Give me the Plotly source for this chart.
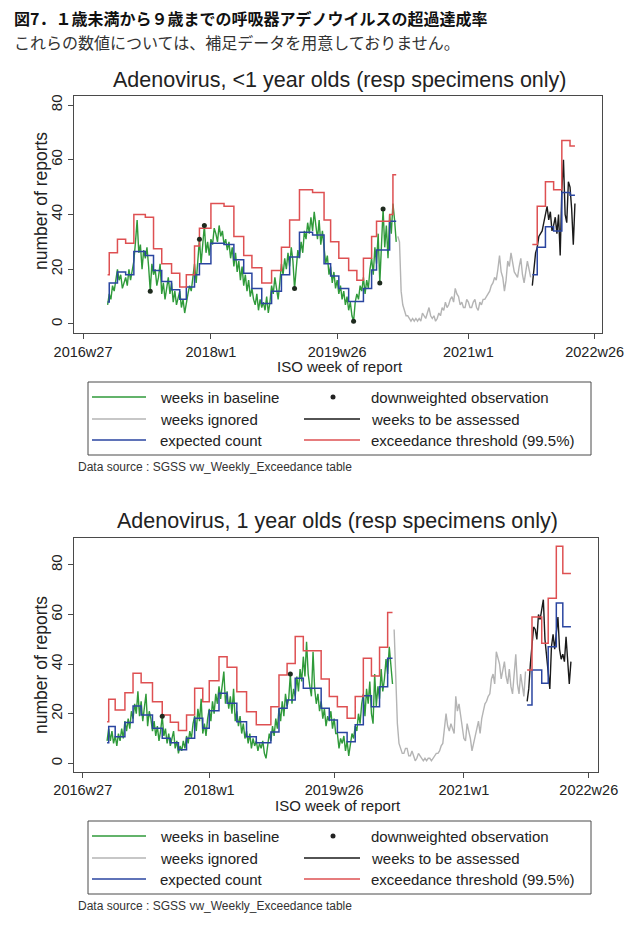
import plotly.graph_objects as go

# ---------------- data ----------------
tick_wk = [0, 78, 155, 235, 312]
tick_lab = ["2016w27", "2018w1", "2019w26", "2021w1", "2022w26"]
y_ticks = [0, 20, 40, 60, 80]

# Chart 1: <1 year olds
c1_base_start = 15
c1_baseline = [
    7, 11, 9, 14, 12, 16, 20, 16, 18, 13,
    15, 17, 14, 20, 16, 19, 23, 30, 38, 26,
    29, 20, 27, 24, 28, 21, 12, 22, 18, 20,
    14, 17, 22, 11, 15, 9, 13, 17, 11, 15,
    8, 12, 7, 10, 12, 6, 9, 4, 8, 11,
    14, 12, 17, 22, 15, 24, 31, 22, 28, 36,
    26, 30, 25, 31, 29, 35, 33, 30, 36, 32,
    34, 29, 31, 27, 30, 24, 28, 21, 26, 19,
    23, 16, 21, 14, 18, 12, 16, 10, 13, 9,
    7, 11, 5, 9, 6, 8, 5, 10, 4, 8,
    14, 11, 17, 13, 9, 15, 22, 18, 24, 20,
    26, 21, 28, 23, 13, 20, 27, 24, 30, 26,
    34, 31, 37, 33, 39, 34, 41, 36, 31, 38,
    29, 34, 27, 22, 25, 18, 21, 15, 19, 13,
    16, 11, 14, 9, 12, 7, 10, 5, 8, 3,
    1, 8, 11, 9, 14, 12, 17, 11, 16, 13,
    20, 24, 18, 28, 22, 33, 15, 30, 42, 28,
    36, 24, 40, 33, 44, 38, 30,
]
c1_ign_start = 192
c1_ignored = [
    32, 30, 12, 7, 5, 3, 3, 2, 1, 2,
    1, 2, 1, 2, 1, 4, 3, 2, 4, 6,
    3, 2, 3, 1, 2, 4, 3, 6, 5, 8,
    6, 7, 9, 10, 8, 13, 11, 10, 7, 8,
    6, 6, 9, 8, 6, 6, 8, 9, 6, 5,
    8, 7, 9, 9, 10, 11, 12, 14, 15, 17,
    16, 20, 25, 19, 17, 12, 16, 23, 21, 26,
    22, 19, 18, 17, 21, 24, 18, 15, 19, 23,
    20, 17,
]
c1_ass_start = 274
c1_assessed = [14, 20, 26, 28, 32, 33, 34, 37, 40, 43, 38, 41, 34, 36,
               39, 33, 40, 25, 49, 60, 40, 37, 52, 50, 42, 29, 44]
c1_exp_wk = [15, 16, 21, 26, 31, 38, 43, 48, 54, 59, 63, 68, 71, 78, 86, 92, 98,
             103, 109, 115, 121, 126, 132, 140, 147, 151, 156, 162, 167, 171,
             176, 179, 187, 189, 191, None, 274, 277, 282, 287, 292, 297, 300]
c1_exp = [8, 15, 19, 18, 26.5, 25, 19.5, 15.5, 12.5, 9, 13.5, 18, 22, 29.5, 29,
          23.5, 18.5, 13, 7.5, 12, 18, 24.5, 33.5, 32.5, 22, 17.5, 13, 8.2, 8.2,
          13, 19.7, 27, 37.5, 37.5, 37.5, None, 18, 28, 35.5, 34, 48, 47, 47]
c1_thr = [18, 26, 31, 29.5, 40, 39, 27.5, 22, 18.5, 13.5, 18, 28.5, 35, 44, 43,
          32, 25, 20.5, 15, 19.5, 28, 38, 49, 48, 38, 30, 24, 19.5, 16, 24,
          32, 37.5, 40, 54.5, 54.5, None, 29, 43, 52, 49, 67, 65, 65]
c1_dw_wk = [41, 71, 74, 129, 165, 181, 183]
c1_dw = [12, 31, 36, 13, 1, 15, 42]

# Chart 2: 1 year olds
c2_base_start = 15
c2_baseline = [
    9, 14, 9, 13, 8, 11, 7, 12, 9, 14,
    10, 17, 13, 18, 14, 21, 18, 24, 20, 29,
    19, 25, 17, 22, 28, 15, 21, 18, 13, 17,
    11, 15, 9, 13, 19, 11, 14, 8, 12, 7,
    10, 13, 6, 9, 4, 7, 5, 9, 6, 11,
    8, 13, 10, 16, 19, 13, 22, 17, 26, 12,
    16, 11, 18, 22, 17, 25, 20, 28, 24, 31,
    26, 33, 37, 24, 29, 22, 27, 20, 30, 17,
    21, 15, 19, 12, 16, 10, 13, 8, 12, 6,
    10, 7, 9, 5, 8, 6, 9, 4, 2, 7,
    12, 9, 15, 11, 18, 14, 22, 17, 25, 19,
    28, 23, 26, 36, 24, 30, 27, 35, 29, 38,
    33, 43, 35, 49, 36, 31, 27, 45, 30, 24,
    28, 21, 25, 18, 22, 15, 19, 17, 21, 14,
    18, 12, 12, 6, 10, 8, 11, 5, 9, 3,
    8, 12, 10, 15, 13, 20, 16, 24, 28, 19,
    30, 24, 33, 20, 16, 36, 23, 31, 26, 38,
    29, 34, 42, 36, 47, 40, 32,
]
c2_ign_start = 192
c2_ignored = [
    54, 38, 16, 8, 6, 4, 4, 6, 6, 3,
    3, 5, 3, 1, 2, 4, 3, 2, 1, 2,
    1, 2, 2, 1, 2, 3, 4, 4, 5, 7,
    8, 14, 20, 15, 13, 16, 14, 12, 27, 21,
    24, 19, 14, 10, 9, 16, 13, 10, 5, 8,
    11, 15, 17, 12, 18, 21, 24, 25, 27, 28,
    34, 36, 32, 45, 42, 40, 34, 37, 41, 35,
    32, 38, 31, 28, 35, 44, 32, 28, 36, 31,
    27, 37,
]
c2_ass_start = 274
c2_assessed = [25, 30, 40, 49, 55, 54, 50, 60, 58, 62, 66, 50, 43, 38,
               30, 47, 52, 46, 54, 59, 46, 42, 44, 41, 51, 43, 32, 41]
c2_exp_wk = [15, 16, 20, 26, 31, 36, 43, 49, 54, 59, 64, 69, 74, 78, 84, 89, 95,
             101, 107, 116, 121, 126, 131, 136, 147, 152, 157, 163, 168, 173,
             178, 183, 188, 191, None, 274, 277, 283, 287, 292, 296, 301]
c2_exp = [8.3, 14.8, 10.7, 16.4, 23.1, 19.5, 14.1, 10.1, 8.3, 5.5, 10.1, 18.2,
          14.1, 21.2, 28.2, 24.2, 16.8, 10.7, 8.3, 12.6, 22.2, 25.5, 34.3, 30.3,
          22.2, 17.5, 12.4, 8.7, 15.5, 27.2, 22.8, 30.9, 42.4, 42.4, None,
          23.5, 37.6, 32.3, 47, 64.7, 55.1, 55.1]
c2_thr = [16.8, 25.8, 21.5, 28.5, 36.3, 32.5, 24.8, 19.5, 16.5, 13.2, 19.5, 30.3,
          24.8, 33.3, 43, 38.7, 28.9, 20.8, 15.5, 22.8, 35.6, 40.3, 51.1, 45.4,
          34, 26.9, 22.8, 18.2, 26.9, 42.4, 35.2, 46.8, 60.8, 60.8, None,
          37.6, 59, 48.4, 66.6, 87.6, 76.6, 76.6]
c2_dw_wk = [49, 128]
c2_dw = [19, 36]

legend_labels = ["weeks in baseline", "weeks ignored", "expected count",
                 "downweighted observation", "weeks to be assessed",
                 "exceedance threshold (99.5%)"]

# ---------------- style ----------------
W, H = 641, 933
GREEN = "#2f9a3a"
GRAY = "#b4b4b4"
BLUE = "#2a45a0"
BLACK = "#1a1a1a"
RED = "#de5052"
DOTC = "#1e2a1e"
FONT = "Liberation Sans"


def px(x):
    return x / W


def py(y):
    return 1 - y / H


fig = go.Figure()


def weeks(start, vals):
    return list(range(start, start + len(vals)))


def add_panel(xa, ya, bs, base, is_, ign, as_, ass, ewk, ev, tv, dwk, dv):
    common = dict(xaxis=xa, yaxis=ya, showlegend=False, hoverinfo="skip")
    fig.add_trace(go.Scatter(x=weeks(bs, base), y=base, mode="lines",
                             line=dict(color=GREEN, width=1.4), **common))
    fig.add_trace(go.Scatter(x=weeks(is_, ign), y=ign, mode="lines",
                             line=dict(color=GRAY, width=1.4), **common))
    fig.add_trace(go.Scatter(x=weeks(as_, ass), y=ass, mode="lines",
                             line=dict(color=BLACK, width=1.4), **common))
    fig.add_trace(go.Scatter(x=ewk, y=ev, mode="lines", connectgaps=False,
                             line=dict(color=BLUE, width=1.5, shape="hv"), **common))
    fig.add_trace(go.Scatter(x=ewk, y=tv, mode="lines", connectgaps=False,
                             line=dict(color=RED, width=1.5, shape="hv"), **common))
    fig.add_trace(go.Scatter(x=dwk, y=dv, mode="markers",
                             marker=dict(color=DOTC, size=5), **common))


add_panel("x", "y", c1_base_start, c1_baseline, c1_ign_start, c1_ignored,
          c1_ass_start, c1_assessed, c1_exp_wk, c1_exp, c1_thr, c1_dw_wk, c1_dw)
add_panel("x2", "y2", c2_base_start, c2_baseline, c2_ign_start, c2_ignored,
          c2_ass_start, c2_assessed, c2_exp_wk, c2_exp, c2_thr, c2_dw_wk, c2_dw)

axis_common = dict(showline=True, mirror=True, linecolor="#4a4a4a", linewidth=1.2,
                   ticks="outside", ticklen=5, tickcolor="#4a4a4a", tickwidth=1.2,
                   showgrid=False, zeroline=False, fixedrange=True, automargin=False)
xcommon = dict(tickmode="array", tickvals=tick_wk, ticktext=tick_lab,
               tickfont=dict(family=FONT, size=14.5, color="#222"), **axis_common)
ycommon = dict(tickmode="array", tickvals=y_ticks, tickangle=-90,
               tickfont=dict(family=FONT, size=15, color="#222"), **axis_common)

fig.update_layout(
    width=W, height=H, autosize=False, margin=dict(l=0, r=0, t=0, b=0, pad=0),
    paper_bgcolor="white", plot_bgcolor="white", showlegend=False,
    xaxis=dict(domain=[px(74), px(602)], range=[-5.5, 316.5], anchor="y", **xcommon),
    yaxis=dict(domain=[py(333), py(96)], range=[-3.3, 83.3], anchor="x", **ycommon),
    xaxis2=dict(domain=[px(74), px(598)], range=[-5.4, 317.7], anchor="y2", **xcommon),
    yaxis2=dict(domain=[py(771.7), py(537.7)], range=[-3.4, 91], anchor="x2", **ycommon),
)

ann = []
shapes = []


def text(x, y, s, size, xanchor="left", angle=0, color="#222", family=FONT):
    ann.append(dict(x=px(x), y=py(y), xref="paper", yref="paper", text=s,
                    showarrow=False, xanchor=xanchor, yanchor="middle",
                    textangle=angle, font=dict(family=family, size=size, color=color)))


# header
text(12, 18, "<b>図7．１歳未満から９歳までの呼吸器アデノウイルスの超過達成率</b>", 16,
     family="Noto Sans CJK JP", color="#111")
text(12, 42, "これらの数値については、補足データを用意しておりません。", 16,
     family="Noto Sans CJK JP", color="#333")


def panel_text(title, tcx, ty, xlab_y, ylab_y, leg_top, src_y):
    text(tcx, ty, title, 21.5, xanchor="center")
    text(tcx, xlab_y, "ISO week of report", 15, xanchor="center")
    text(41, ylab_y, "number of reports", 17.5, xanchor="center", angle=-90)
    # legend box
    shapes.append(dict(type="rect", xref="paper", yref="paper",
                       x0=px(88), x1=px(591), y0=py(leg_top), y1=py(leg_top + 73),
                       line=dict(color="#4a4a4a", width=1)))
    rows = [leg_top + 15, leg_top + 37, leg_top + 58]
    col1 = [(legend_labels[0], GREEN), (legend_labels[1], GRAY), (legend_labels[2], BLUE)]
    col2 = [(legend_labels[3], None), (legend_labels[4], BLACK), (legend_labels[5], RED)]
    for r, (lab, c) in zip(rows, col1):
        shapes.append(dict(type="line", xref="paper", yref="paper", x0=px(92), x1=px(146),
                           y0=py(r), y1=py(r), line=dict(color=c, width=1.5)))
        text(158, r, lab, 15)
    for r, (lab, c) in zip(rows, col2):
        if c is None:
            shapes.append(dict(type="circle", xref="paper", yref="paper",
                               x0=px(330.5), x1=px(335.5), y0=py(r + 2.5), y1=py(r - 2.5),
                               fillcolor="#222", line=dict(color="#222", width=0)))
        else:
            shapes.append(dict(type="line", xref="paper", yref="paper", x0=px(304), x1=px(360),
                               y0=py(r), y1=py(r), line=dict(color=c, width=1.5)))
        text(369, r, lab, 15)
    text(76, src_y, "Data source : SGSS vw_Weekly_Exceedance table", 12, color="#333")


panel_text("Adenovirus, &lt;1 year olds (resp specimens only)", 340, 80, 367, 201, 382, 467)
panel_text("Adenovirus, 1 year olds (resp specimens only)", 338, 521, 805, 665, 821, 906)

fig.update_layout(annotations=ann, shapes=shapes)

post = ("document.documentElement.style.margin='0';document.body.style.margin='0';"
        "document.body.style.padding='0';document.body.style.overflow='hidden';"
        "document.documentElement.style.overflow='hidden';")
fig.write_html("out.html", config={"displayModeBar": False}, post_script=post)
